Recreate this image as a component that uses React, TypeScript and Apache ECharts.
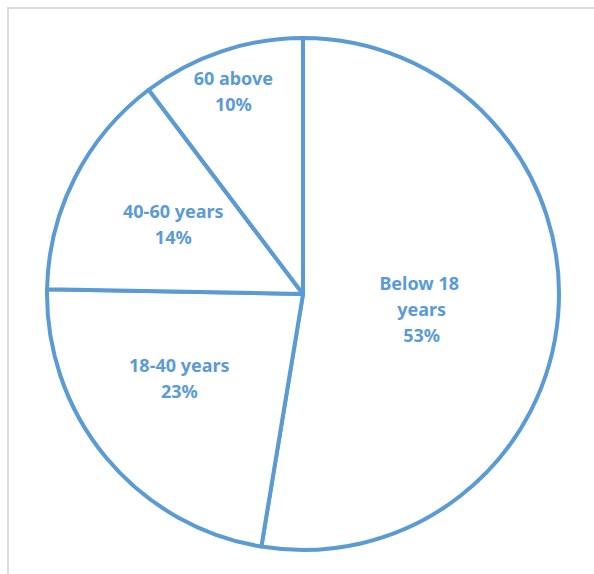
import React, { useEffect, useRef } from "react";
import * as echarts from "echarts";

const categories = ["Below 18 years", "18-40 years", "40-60 years", "60 above"];
const values = [52.6, 22.7, 14.4, 10.3];

// label nudges (layout only), relative to ECharts' inside position
const labelShiftX = [-12, -23, -13, -28];
const labelShiftY = [4, 0, -11, -79];

const BLUE = "#5B9BD5";

export default function App() {
  const ref = useRef<HTMLDivElement>(null);
  useEffect(() => {
    const chart = echarts.init(ref.current!, null, { renderer: "svg" });
    chart.setOption({
      animation: false,
      backgroundColor: "#ffffff",
      graphic: [
        {
          type: "rect",
          silent: true,
          z: 100,
          shape: { x: 1, y: 1, width: 900, height: 900 },
          style: { fill: "none", stroke: "#DCDCDC", lineWidth: 2 },
        },
      ],
      series: [
        {
          type: "pie",
          center: [296, 287],
          radius: 256,
          startAngle: 90,
          clockwise: true,
          avoidLabelOverlap: false,
          itemStyle: { color: "#ffffff", borderColor: BLUE, borderWidth: 4 },
          emphasis: { disabled: true },
          label: {
            show: true,
            position: "inside",
            color: BLUE,
            fontFamily: "Noto Sans",
            fontWeight: "bold",
            fontSize: 18,
            lineHeight: 26,
            width: 120,
            overflow: "break",
            align: "center",
            formatter: (p: any) => `${p.name}\n${Math.round(p.percent)}%`,
          },
          labelLine: { show: false },
          labelLayout: (params: any) => ({
            dx: labelShiftX[params.dataIndex],
            dy: labelShiftY[params.dataIndex],
          }),
          data: categories.map((name, i) => ({ name, value: values[i] })),
        },
      ],
    });
    return () => chart.dispose();
  }, []);
  return (
    <div
      ref={ref}
      style={{ position: "absolute", left: 7, top: 7, width: 587, height: 567 }}
    />
  );
}
